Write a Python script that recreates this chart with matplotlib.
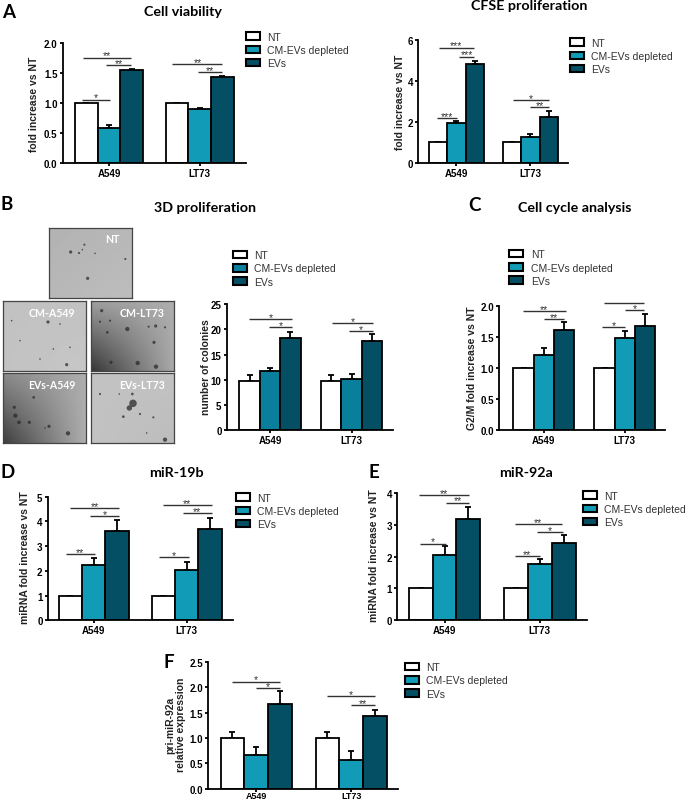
import numpy as np
import matplotlib
matplotlib.use('Agg')
import matplotlib.pyplot as plt
from matplotlib.patches import Patch
from matplotlib.transforms import Affine2D

W, H = 685, 803
plt.rcParams['font.family'] = ['Liberation Sans', 'DejaVu Sans']

groups = ['A549', 'LT73']
series = ['NT', 'CM-EVs depleted', 'EVs']

# values: NT, CM-EVs depleted, EVs for A549 / LT73
viab_nt, viab_cm, viab_ev = [1, 1], [0.58, 0.91], [1.55, 1.43]
viab_err = [[0, 0], [0.06, 0.015], [0.02, 0.015]]
cfse_nt, cfse_cm, cfse_ev = [1, 1], [1.97, 1.27], [4.8, 2.25]
cfse_err = [[0, 0], [0.05, 0.13], [0.18, 0.3]]
col_nt, col_cm, col_ev = [9.7, 9.7], [11.8, 10.2], [18.2, 17.7]
col_err = [[1.2, 1.2], [0.6, 0.9], [1.3, 1.3]]
g2m_nt, g2m_cm, g2m_ev = [1, 1], [1.22, 1.48], [1.62, 1.68]
g2m_err = [[0, 0], [0.11, 0.12], [0.12, 0.19]]
m19_nt, m19_cm, m19_ev = [1, 1], [2.25, 2.02], [3.6, 3.7]
m19_err = [[0, 0], [0.27, 0.35], [0.45, 0.45]]
m92_nt, m92_cm, m92_ev = [1, 1], [2.05, 1.77], [3.18, 2.43]
m92_err = [[0, 0], [0.27, 0.15], [0.4, 0.25]]
pri_nt, pri_cm, pri_ev = [1.01, 1.01], [0.66, 0.56], [1.67, 1.43]
pri_err = [[0.11, 0.11], [0.17, 0.18], [0.25, 0.13]]

# significance lines: x from, x to (group units), y (data), stars
viab_sig = [(-0.29, 0.24, 1.756, '**'), (-0.03, 0.24, 1.63, '**'), (-0.30, 0.01, 1.06, '*'),
            (0.70, 1.25, 1.645, '**'), (0.98, 1.25, 1.51, '**')]
cfse_sig = [(-0.24, 0.24, 5.61, '***'), (0.04, 0.24, 5.17, '***'), (-0.26, 0.005, 2.19, '***'),
            (0.76, 1.25, 3.06, '*'), (1.0, 1.25, 2.72, '**')]
col_sig = [(-0.26, 0.27, 22.0, '*'), (-0.01, 0.27, 20.4, '*'),
           (0.76, 1.257, 21.3, '*'), (0.97, 1.264, 19.7, '*')]
g2m_sig = [(-0.26, 0.27, 1.92, '**'), (0, 0.25, 1.795, '**'), (0.74, 1.24, 2.05, '*'),
           (1.0, 1.24, 1.935, '*'), (0.72, 1.0, 1.665, '*')]
m19_sig = [(-0.25, 0.27, 4.53, '**'), (-0.04, 0.27, 4.22, '*'), (-0.30, 0.01, 2.68, '**'),
           (0.74, 1.27, 4.66, '**'), (0.96, 1.27, 4.34, '**'), (0.70, 1.02, 2.55, '*')]
m92_sig = [(-0.27, 0.26, 3.94, '**'), (0.015, 0.26, 3.70, '**'), (-0.26, 0.015, 2.41, '*'),
           (0.74, 1.23, 3.03, '**'), (0.97, 1.24, 2.77, '*'), (0.74, 1.0, 2.02, '**')]
pri_sig = [(-0.25, 0.25, 2.11, '*'), (0, 0.25, 1.99, '*'),
           (0.75, 1.25, 1.82, '*'), (1.0, 1.25, 1.65, '**')]

viab_ticks = [0, 0.5, 1, 1.5, 2]
cfse_ticks = [0, 2, 4, 6]
col_ticks = [0, 5, 10, 15, 20, 25]
g2m_ticks = [0, 0.5, 1, 1.5, 2]
m19_ticks = [0, 1, 2, 3, 4, 5]
m92_ticks = [0, 1, 2, 3, 4]
pri_ticks = [0, 0.5, 1, 1.5, 2, 2.5]

# dark specks on the micrographs, in picture px x, y and size
nt_dots = [(212, 84, 3), (253, 62, 2), (237, 87, 2), (263, 163, 3), (247, 77, 1.5), (285, 88, 1.5), (376, 105, 2)]
cma_dots = [(144, 294, 3), (200, 422, 3), (160, 375, 1.5), (120, 405, 1.5), (60, 350, 1.5), (180, 300, 1.5), (35, 290, 1.5), (210, 370, 1.5)]
cml_dots = [(382, 315, 4), (467, 306, 3), (446, 308, 2), (495, 310, 2), (462, 355, 3), (413, 417, 4), (468, 428, 4), (305, 260, 3), (330, 290, 2), (322, 325, 2.5), (300, 293, 2), (333, 415, 3)]
eva_dots = [(43, 550, 3), (46, 575, 4), (57, 595, 3.5), (88, 595, 3), (147, 607, 3), (204, 628, 4), (101, 520, 2.5), (135, 612, 1.5)]
evl_dots = [(399, 538, 7), (388, 552, 5), (397, 510, 2.5), (370, 578, 2.5), (420, 570, 2), (358, 510, 1.5), (460, 580, 2), (300, 510, 2), (440, 627, 1.5), (495, 647, 4)]

fig = plt.figure(figsize=(W / 100, H / 100), dpi=100)
pix = Affine2D().scale(1 / W, -1 / H).translate(0, 1) + fig.transFigure

BLUE = '#129bb6'
BLUE_B = '#0a7f9b'
DARK = '#044f63'
LW = 1.3


def panel(rect, centers, vals, errs, ticks, fmt, sig, ylabel, ylabel_xy, legend_xy, cm_color=BLUE):
    left, right, y0, ytop = rect
    ax = fig.add_axes([left / W, 1 - y0 / H, (right - left) / W, (y0 - ytop) / H])
    sp = centers[1] - centers[0]
    ax.set_xlim((left - centers[0]) / sp, (right - centers[0]) / sp)
    ax.set_ylim(0, ticks[-1])
    x = np.arange(len(groups))
    colors = ['white', cm_color, DARK]
    for i in range(3):
        pos = x + (i - 1) * 0.25
        ax.errorbar(pos, vals[i], yerr=[np.zeros(2), errs[i]], fmt='none', ecolor='k',
                    elinewidth=LW, capsize=2.5, capthick=LW, zorder=1, clip_on=False)
        ax.bar(pos, vals[i], 0.25, color=colors[i], edgecolor='k', linewidth=LW, zorder=2)
    for a, b, y, s in sig:
        ax.plot([a, b], [y, y], color='#333333', lw=1.0, clip_on=False, solid_capstyle='butt')
        ax.annotate(s, ((a + b) / 2, y), xytext=(0, -2), textcoords='offset points',
                    ha='center', va='bottom', fontsize=7.5, color='#333333')
    for s in ['top', 'right']:
        ax.spines[s].set_visible(False)
    for s in ['left', 'bottom']:
        ax.spines[s].set_linewidth(LW)
    ax.set_xticks(x)
    ax.set_xticklabels(groups, fontweight='bold', fontsize=7)
    ax.set_yticks(ticks)
    ax.set_yticklabels([fmt % t for t in ticks], fontweight='bold', fontsize=7)
    ax.tick_params(axis='both', length=2.2, width=LW, pad=1.5)
    ax.set_ylabel(ylabel, fontweight='bold', fontsize=7.5, color='#222222', linespacing=1.1, va='center')
    ax.yaxis.set_label_coords(ylabel_xy[0], ylabel_xy[1], transform=pix)
    handles = [Patch(facecolor=c, edgecolor='k', linewidth=1.5) for c in colors]
    ax.legend(handles, series, loc='center left', bbox_to_anchor=legend_xy, bbox_transform=pix,
              frameon=False, fontsize=7.5, borderpad=0, borderaxespad=0, handlelength=1.33,
              handleheight=0.72, handletextpad=0.72, labelspacing=0.32, labelcolor='#333333')
    return ax


panel((62.7, 245.7, 164.3, 44), (109, 199.7), [viab_nt, viab_cm, viab_ev], viab_err, viab_ticks, '%.1f',
      viab_sig, 'fold increase vs NT', (34.5, 104), (246, 51))
panel((418.3, 568, 164, 40.7), (456.3, 530.3), [cfse_nt, cfse_cm, cfse_ev], cfse_err, cfse_ticks, '%d',
      cfse_sig, 'fold increase vs NT', (400, 102), (569.7, 57))
panel((226.7, 393, 431, 305.3), (270, 351.7), [col_nt, col_cm, col_ev], col_err, col_ticks, '%d',
      col_sig, 'number of colonies', (205.7, 367), (233, 269.5), cm_color=BLUE_B)
panel((499, 665.3, 431, 307.3), (543.8, 624.8), [g2m_nt, g2m_cm, g2m_ev], g2m_err, g2m_ticks, '%.1f',
      g2m_sig, 'G2/M fold increase vs NT', (472, 368), (509.3, 268.5))
panel((47.7, 233.3, 621.3, 497.7), (93.7, 186.7), [m19_nt, m19_cm, m19_ev], m19_err, m19_ticks, '%d',
      m19_sig, 'miRNA fold increase vs NT', (25, 558), (235.7, 512))
panel((397.3, 587.3, 620.7, 494.3), (444.5, 539.8), [m92_nt, m92_cm, m92_ev], m92_err, m92_ticks, '%d',
      m92_sig, 'miRNA fold increase vs NT', (374, 556), (582.7, 510))
ax_f = panel((208.3, 398.3, 789.7, 663), (256.2, 351.2), [pri_nt, pri_cm, pri_ev], pri_err, pri_ticks, '%.1f',
             pri_sig, 'pri-miR-92a\nrelative expression', (176, 725), (404.7, 681.5))
# bottom panel sits right on the picture edge, keep its labels inside
ax_f.tick_params(axis='x', length=1.8, pad=0, labelsize=6.5)


def photo(x0, x1, y0, y1, corners, dots, label, lab_xy):
    # x, y given in the 3x crop (crop origin at 0, 225)
    left, right = x0 / 3, x1 / 3
    top, bot = 225 + y0 / 3, 225 + y1 / 3
    ax = fig.add_axes([left / W, 1 - bot / H, (right - left) / W, (bot - top) / H])
    tl, tr, bl, br = corners
    u, v = np.meshgrid(np.linspace(0, 1, 40), np.linspace(0, 1, 40))
    img = (tl * (1 - u) + tr * u) * (1 - v) + (bl * (1 - u) + br * u) * v
    ax.imshow(img, cmap='gray', vmin=0, vmax=1, extent=(x0, x1, y1, y0), aspect='auto', interpolation='bilinear')
    d = np.array(dots)
    ax.scatter(d[:, 0], d[:, 1], s=d[:, 2] ** 2 * 0.6, color='#2a2a2a', alpha=0.75, linewidths=0)
    ax.set_xlim(x0, x1)
    ax.set_ylim(y1, y0)
    ax.set_xticks([])
    ax.set_yticks([])
    for s in ax.spines.values():
        s.set_linewidth(0.9)
        s.set_color('#444444')
    ax.text(lab_xy[0], lab_xy[1], label, color='white', ha='center', va='center', fontsize=7.6,
            fontweight='bold', family='Lato')


photo(148, 395, 12, 222, (0.70, 0.72, 0.72, 0.74), nt_dots, 'NT', (337, 44))
photo(10, 258, 232, 442, (0.76, 0.76, 0.76, 0.78), cma_dots, 'CM-A549', (155, 266))
photo(274, 522, 232, 442, (0.62, 0.68, 0.22, 0.66), cml_dots, 'CM-LT73', (425, 266))
photo(10, 258, 447, 658, (0.55, 0.68, 0.25, 0.68), eva_dots, 'EVs-A549', (154, 482))
photo(274, 522, 447, 658, (0.76, 0.76, 0.76, 0.74), evl_dots, 'EVs-LT73', (426, 482))

# panel titles and letters
titles = [('Cell viability', 182.7, 12.3), ('CFSE proliferation', 529, 6.5), ('3D proliferation', 204.7, 207.7),
          ('Cell cycle analysis', 574.7, 207.7), ('miR-19b', 176, 472.7), ('miR-92a', 525.7, 472.7)]
for t, px, py in titles:
    fig.text(px, py, t, transform=pix, ha='center', va='center', fontsize=10.3, fontweight='bold', family='Lato')
letters = [('A', 2, 12), ('B', 1, 205), ('C', 468, 205.7), ('D', 1, 472.7), ('E', 369, 472.7), ('F', 164, 662.7)]
for t, px, py in letters:
    fig.text(px, py, t, transform=pix, ha='left', va='center', fontsize=13.5, fontweight='bold', family='Lato')

fig.savefig('out.png', dpi=100)
